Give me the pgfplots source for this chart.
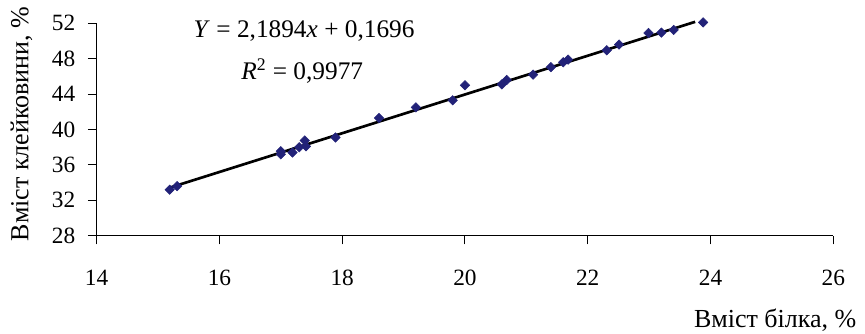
\documentclass[border=0pt]{standalone}
\usepackage{pgfplots}
\pgfplotsset{compat=1.18}
\usepackage{fontspec}
\setmainfont{Liberation Serif}
\definecolor{mk}{RGB}{34,34,120}
\begin{document}
\fontsize{17.5}{21}\selectfont
\begin{tikzpicture}
\begin{axis}[
  scale only axis,
  width=552.5pt, height=159.3pt,
  xmin=14, xmax=26, ymin=28, ymax=52,
  xtick={14,16,...,26}, ytick={28,32,...,52},
  axis x line*=bottom, axis y line*=left,
  axis line style={black, line width=0.75pt, -},
  tick style={black, line width=0.75pt},
  tick align=outside,
  major tick length=6.5pt,
  /pgf/number format/assume math mode=true,
  ticklabel style={font=\fontsize{17.5}{21}\selectfont},
  xticklabel style={yshift=-12.9pt},
  yticklabel style={xshift=-3.5pt},
  clip=false,
]
\addplot[only marks, mark=square*, mark size=2.5pt, mark options={rotate=45, fill=mk, draw=mk}] coordinates {
(15.19,33.2) (15.31,33.6) (17.00,37.55) (17.00,37.2) (17.19,37.4) (17.30,38.0)
(17.39,38.75) (17.41,38.1) (17.89,39.1) (18.60,41.3) (19.20,42.5) (19.80,43.3)
(20.00,45.0) (20.60,45.1) (20.68,45.6) (21.11,46.2) (21.40,47.05) (21.60,47.6)
(21.68,47.9) (22.31,48.95) (22.51,49.6) (22.99,50.9) (23.20,50.95) (23.40,51.25)
(23.88,52.1)
};
\addplot[black, line width=2pt] coordinates {(15.2,33.448) (23.75,52.17)};
\node[anchor=base, font=\fontsize{19}{23}\selectfont] at (axis cs:17.38,50.37) {\textit{Y} = 2,1894\textit{x} + 0,1696};
\node[anchor=base, font=\fontsize{19}{23}\selectfont] at (axis cs:17.35,45.7) {\textit{R}\textsuperscript{2} = 0,9977};
\end{axis}
\node[rotate=90, anchor=base, font=\fontsize{19.5}{23}\selectfont] at ([xshift=-51.3pt,yshift=4.1pt]current axis.west) {Вміст клейковини, \%};
\node[anchor=base east, font=\fontsize{19.5}{23}\selectfont] at ([xshift=23.3pt,yshift=-69pt]current axis.south east) {Вміст білка, \%};
\pgfresetboundingbox
\path[use as bounding box] ([xshift=-72.5pt,yshift=-73pt]current axis.south west) rectangle ([xshift=23.8pt,yshift=17.5pt]current axis.north east);
\end{tikzpicture}
\end{document}
